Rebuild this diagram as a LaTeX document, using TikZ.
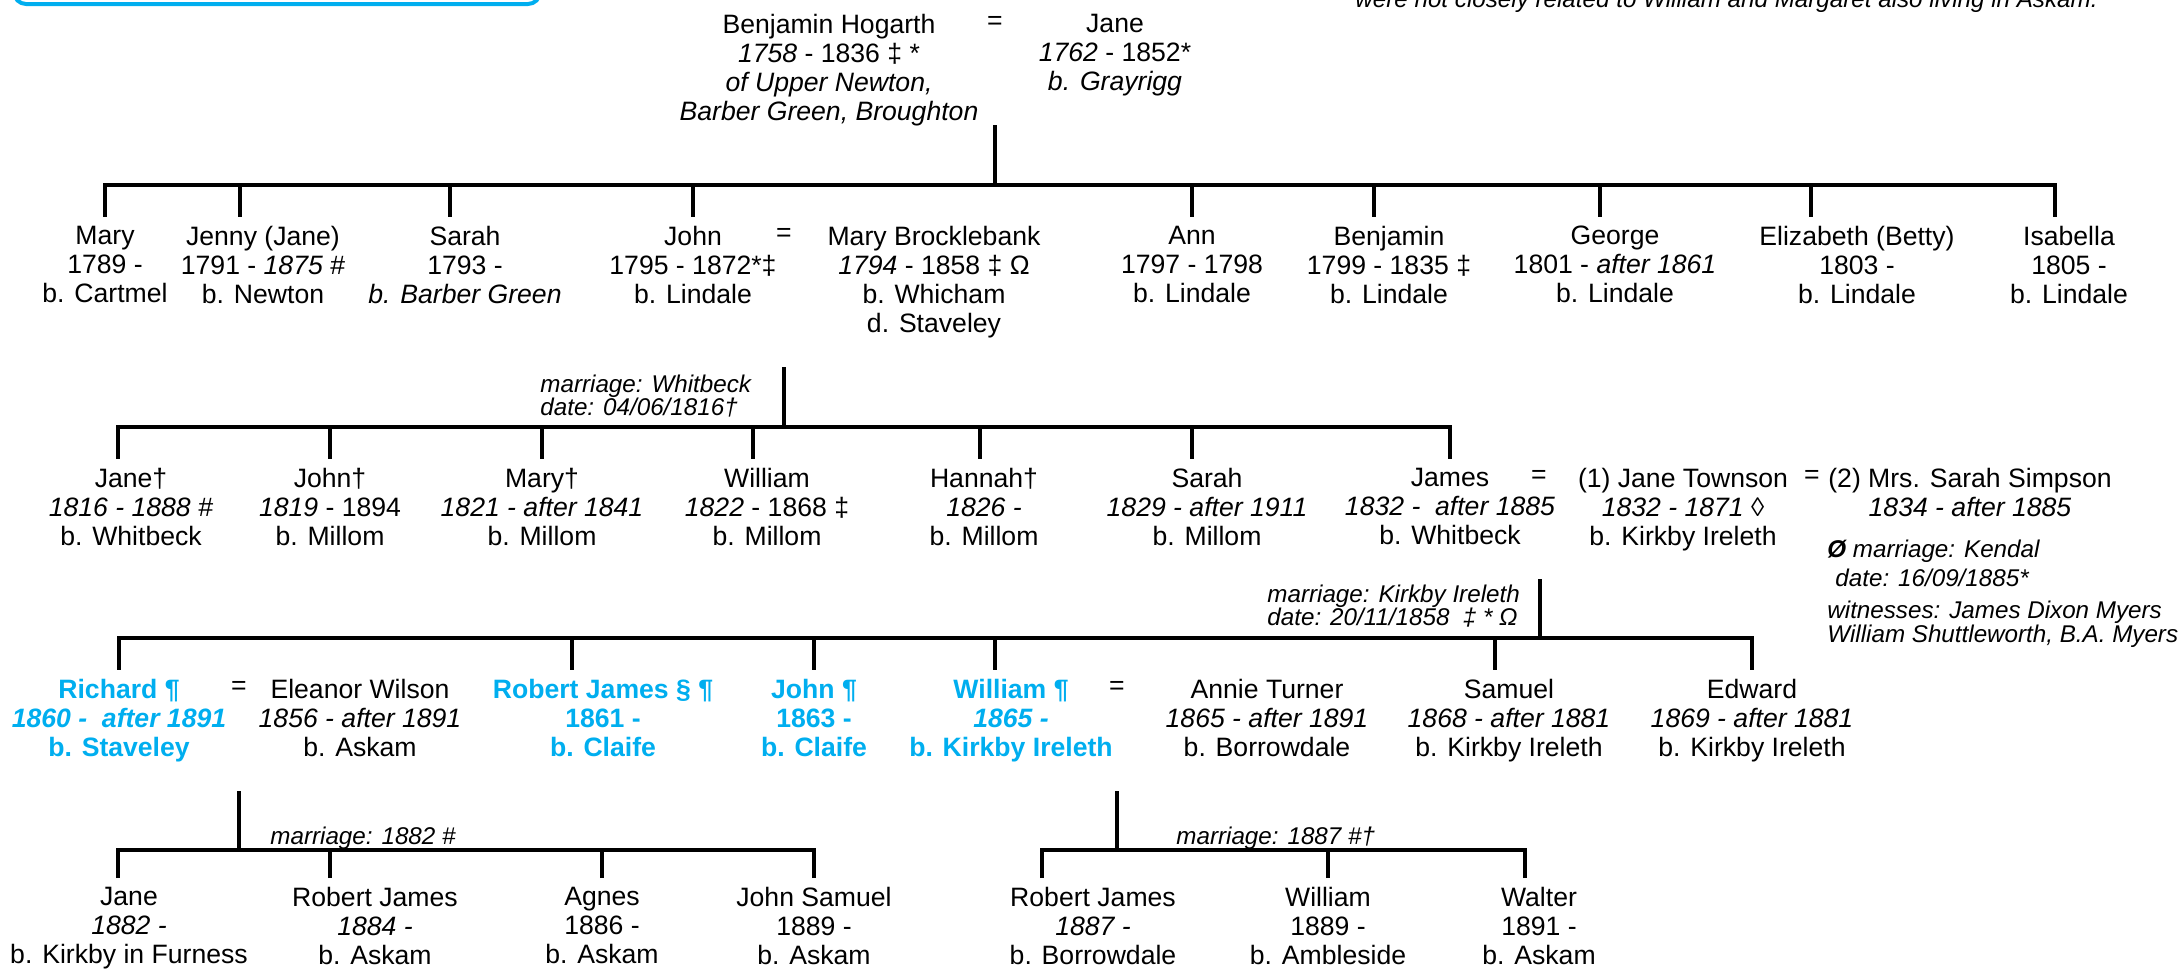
\documentclass[tikz,border=0pt]{standalone}
\usepackage{fontspec}
\setmainfont{Liberation Sans}
\usepackage{xcolor}
\usepackage{tikz}
\usetikzlibrary{positioning}
\definecolor{kinblue}{RGB}{0,174,239}
\tikzstyle{person} = [anchor=north, align=center, inner sep=4.5pt, font=\fontsize{13.3}{14.5}\selectfont]
\tikzstyle{heir} = [person, text=kinblue, font=\fontsize{13.3}{14.5}\selectfont\bfseries]
\tikzstyle{wed} = [inner sep=0pt, font=\fontsize{13.3}{14.5}\selectfont]
\tikzstyle{note} = [anchor=north west, align=left, inner sep=0pt, font=\fontsize{12.1}{11.75}\selectfont\itshape]
\tikzstyle{famline} = [line width=1.8pt]

\begin{document}
\begin{tikzpicture}[x=0.5pt, y=-0.5pt]
\useasboundingbox (0,0) rectangle (2181,969);
% key box and note, cut by the page edge
\draw[kinblue, line width=2pt, rounded corners=6pt] (14,-40) rectangle (540,4);
\node[note, anchor=base west] (toptext) at (1355,7) {were not closely related to William and Margaret also living in Askam.};

% generation 1
\node[person] (benjamin) at (829,4.5) {Benjamin Hogarth\\\textit{1758} - 1836 ‡ *\\\textit{of Upper Newton,}\\\textit{Barber Green, Broughton}};
\node[wed] (eq1) at (995,23) {=};
\node[person] (jane) at (1115,4.5) {Jane\\\textit{1762} - 1852*\\\textit{b. Grayrigg}};

% generation 2
\node[person] (mary) at (105,216.5) {Mary\\1789 -\\b. Cartmel};
\node[person] (jenny) at (263,216.5) {Jenny (Jane)\\1791 - \textit{1875} \#\\b. Newton};
\node[person] (sarah) at (465,216.5) {Sarah\\1793 -\\\textit{b. Barber Green}};
\node[person] (john) at (693,216.5) {John\\1795 - 1872*‡\\b. Lindale};
\node[wed] (eq2) at (784,235) {=};
\node[person] (brocklebank) at (934,216.5) {Mary Brocklebank\\\textit{1794} - 1858 ‡ Ω\\b. Whicham\\d. Staveley};
\node[person] (ann) at (1192,216.5) {Ann\\1797 - 1798\\b. Lindale};
\node[person] (benjamin2) at (1389,216.5) {Benjamin\\1799 - 1835 ‡\\b. Lindale};
\node[person] (george) at (1615,216.5) {George\\1801 - \textit{after 1861}\\b. Lindale};
\node[person] (betty) at (1857,216.5) {Elizabeth (Betty)\\1803 -\\b. Lindale};
\node[person] (isabella) at (2069,216.5) {Isabella\\1805 -\\b. Lindale};

% generation 3
\node[note] (whitbeck) at (540,374.5) {marriage: Whitbeck\\date: 04/06/1816†};
\node[person] (jane2) at (131,458.5) {Jane†\\\textit{1816 - 1888 \#}\\b. Whitbeck};
\node[person] (john2) at (330,458.5) {John†\\\textit{1819} - 1894\\b. Millom};
\node[person] (mary2) at (542,458.5) {Mary†\\\textit{1821 - after 1841}\\b. Millom};
\node[person] (william) at (767,458.5) {William\\\textit{1822} - 1868 ‡\\b. Millom};
\node[person] (hannah) at (984,458.5) {Hannah†\\\textit{1826 -}\\b. Millom};
\node[person] (sarah2) at (1207,458.5) {Sarah\\\textit{1829 - after 1911}\\b. Millom};
\node[person] (james) at (1450,458.5) {James\\\textit{1832 - \ after 1885}\\b. Whitbeck};
\node[wed] (eq3) at (1539,477) {=};
\node[person] (townson) at (1683,458.5) {(1) Jane Townson\\\textit{1832 - 1871} ◊\\b. Kirkby Ireleth};
\node[wed] (eq3b) at (1812,477) {=};
\node[person] (simpson) at (1970,458.5) {(2) Mrs. Sarah Simpson\\\textit{1834 - after 1885}};
\node[note, font=\fontsize{12.1}{14.5}\selectfont\itshape] (kendal) at (1827,539.5) {\textbf{Ø} marriage: Kendal\\\hspace{4pt}date: 16/09/1885*};
\node[note, below=6.5pt of kendal.south west, anchor=north west, font=\fontsize{12.1}{12}\selectfont\itshape] (witnesses) {witnesses: James Dixon Myers\\William Shuttleworth, B.A. Myers};

% generation 4
\node[note] (kirkby) at (1267,584.5) {marriage: Kirkby Ireleth\\date: 20/11/1858\ \ ‡ * Ω};
\node[heir] (richard) at (119,669.5) {Richard ¶\\\textit{1860 - \ after 1891}\\b. Staveley};
\node[wed] (eq4) at (239,688) {=};
\node[person] (eleanor) at (360,669.5) {Eleanor Wilson\\\textit{1856 - after 1891}\\b. Askam};
\node[heir] (robert) at (603,669.5) {Robert James § ¶\\1861 -\\b. Claife};
\node[heir] (john3) at (814,669.5) {John ¶\\1863 -\\b. Claife};
\node[heir] (william2) at (1011,669.5) {William ¶\\\textit{1865 -}\\b. Kirkby Ireleth};
\node[wed] (eq4b) at (1117,688) {=};
\node[person] (annie) at (1267,669.5) {Annie Turner\\\textit{1865 - after 1891}\\b. Borrowdale};
\node[person] (samuel) at (1509,669.5) {Samuel\\\textit{1868 - after 1881}\\b. Kirkby Ireleth};
\node[person] (edward) at (1752,669.5) {Edward\\\textit{1869 - after 1881}\\b. Kirkby Ireleth};

% generation 5
\node[note] (wed1882) at (270,826.3) {marriage: 1882 \#};
\node[note] (wed1887) at (1176,826.3) {marriage: 1887 \#†};
\node[person] (jane3) at (129,878) {Jane\\\textit{1882 -}\\b. Kirkby in Furness};
\node[person] (robert2) at (375,878) {Robert James\\\textit{1884 -}\\b. Askam};
\node[person] (agnes) at (602,878) {Agnes\\1886 -\\b. Askam};
\node[person] (johnsamuel) at (814,878) {John Samuel\\1889 -\\b. Askam};
\node[person] (robert3) at (1093,878) {Robert James\\\textit{1887 -}\\b. Borrowdale};
\node[person] (william3) at (1328,878) {William\\1889 -\\b. Ambleside};
\node[person] (walter) at (1539,878) {Walter\\1891 -\\b. Askam};

% marriage lines and junctions
\coordinate (m1) at (995,125);  \coordinate (j1) at (995,185);
\coordinate (m2) at (784,367);  \coordinate (j2) at (784,427);
\coordinate (m3) at (1540,579); \coordinate (j3) at (1540,638);
\coordinate (m4) at (239,791);  \coordinate (j4) at (239,850);
\coordinate (m5) at (1117,791); \coordinate (j5) at (1117,850);

\draw [famline] (m1) -- (j1);
\draw [famline] (mary.north) |- (j1);
\draw [famline] ([xshift=-11.5pt]jenny.north) |- (j1);
\draw [famline] ([xshift=-7.5pt]sarah.north) |- (j1);
\draw [famline] (john.north) |- (j1);
\draw [famline] (ann.north) |- (j1);
\draw [famline] ([xshift=-7.5pt]benjamin2.north) |- (j1);
\draw [famline] ([xshift=-7.5pt]george.north) |- (j1);
\draw [famline] ([xshift=-23pt]betty.north) |- (j1);
\draw [famline] ([xshift=-7pt]isabella.north) |- (j1);

\draw [famline] (m2) -- (j2);
\draw [famline] ([xshift=-6.5pt]jane2.north) |- (j2);
\draw [famline] (john2.north) |- (j2);
\draw [famline] (mary2.north) |- (j2);
\draw [famline] ([xshift=-7pt]william.north) |- (j2);
\draw [famline] ([xshift=-2pt]hannah.north) |- (j2);
\draw [famline] ([xshift=-7.5pt]sarah2.north) |- (j2);
\draw [famline] (james.north) |- (j2);

\draw [famline] (m3) -- (j3);
\draw [famline] (richard.north) |- (j3);
\draw [famline] ([xshift=-15.5pt]robert.north) |- (j3);
\draw [famline] (john3.north) |- (j3);
\draw [famline] ([xshift=-8pt]william2.north) |- (j3);
\draw [famline] ([xshift=-7pt]samuel.north) |- (j3);
\draw [famline] (edward.north) |- (j3);

\draw [famline] (m4) -- (j4);
\draw [famline] ([xshift=-5.5pt]jane3.north) |- (j4);
\draw [famline] ([xshift=-22.5pt]robert2.north) |- (j4);
\draw [famline] (agnes.north) |- (j4);
\draw [famline] (johnsamuel.north) |- (j4);

\draw [famline] (m5) -- (j5);
\draw [famline] ([xshift=-25.5pt]robert3.north) |- (j5);
\draw [famline] (william3.north) |- (j5);
\draw [famline] ([xshift=-7pt]walter.north) |- (j5);
\end{tikzpicture}
\end{document}
